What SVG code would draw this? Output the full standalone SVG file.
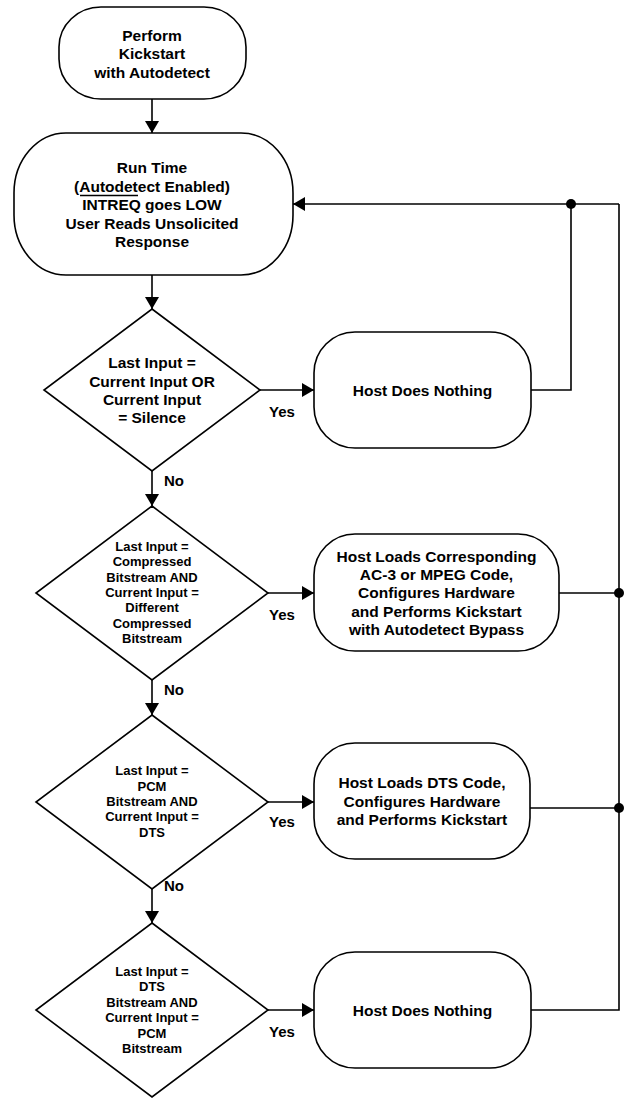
<svg xmlns="http://www.w3.org/2000/svg" width="624" height="1098" viewBox="0 0 624 1098">
<style>
.shape{fill:#fff;stroke:#000;stroke-width:1.6}
.conn{fill:none;stroke:#000;stroke-width:1.6}
.t{font-family:"Liberation Sans",Arial,sans-serif;font-weight:bold;font-size:15.5px;fill:#000;text-anchor:middle}
.s{font-size:13px}
.lbl{font-family:"Liberation Sans",Arial,sans-serif;font-weight:bold;font-size:15px;fill:#000}
</style>
<defs>
<marker id="ah" markerUnits="userSpaceOnUse" viewBox="0 0 12 14" refX="12" refY="7" markerWidth="12" markerHeight="14" orient="auto">
<path d="M0,0 L12,7 L0,14 z" fill="#000"/>
</marker>
</defs>
<rect width="624" height="1098" fill="#fff"/>

<g id="connectors">
<path class="conn" d="M152,99 V133" marker-end="url(#ah)"/>
<path class="conn" d="M152,275 V309" marker-end="url(#ah)"/>
<path class="conn" d="M152,471 V506" marker-end="url(#ah)"/>
<path class="conn" d="M152,680 V715" marker-end="url(#ah)"/>
<path class="conn" d="M152,889 V923" marker-end="url(#ah)"/>
<path class="conn" d="M260,390 H314" marker-end="url(#ah)"/>
<path class="conn" d="M268,593 H314" marker-end="url(#ah)"/>
<path class="conn" d="M268,802 H314" marker-end="url(#ah)"/>
<path class="conn" d="M268,1010 H314" marker-end="url(#ah)"/>
<path class="conn" d="M531,390 H571 V204"/>
<path class="conn" d="M619,204 H293" marker-end="url(#ah)"/>
<path class="conn" d="M559,593 H619"/>
<path class="conn" d="M530,808 H619"/>
<path class="conn" d="M531,1010 H619 V204"/>
<circle cx="571" cy="204" r="5"/>
<circle cx="619" cy="593" r="5"/>
<circle cx="619" cy="808" r="5"/>
<text class="lbl" x="269" y="416.5">Yes</text>
<text class="lbl" x="269" y="619.5">Yes</text>
<text class="lbl" x="269" y="827">Yes</text>
<text class="lbl" x="269" y="1036.5">Yes</text>
<text class="lbl" x="164" y="485.5">No</text>
<text class="lbl" x="164" y="694.5">No</text>
<text class="lbl" x="164" y="891">No</text>
</g>

<g id="start">
<rect class="shape" x="59" y="7" width="187" height="92" rx="42" ry="40"/>
<text class="t" x="152" y="41">Perform</text>
<text class="t" x="152" y="59">Kickstart</text>
<text class="t" x="152" y="77.5">with Autodetect</text>
</g>

<g id="runtime">
<rect class="shape" x="14" y="133" width="279" height="142" rx="52" ry="60"/>
<text class="t" x="152" y="173">Run Time</text>
<text class="t" x="152" y="191.5">(Autodetect Enabled)</text>
<text class="t" x="152" y="210">INTREQ goes LOW</text>
<line x1="80" y1="195.5" x2="138" y2="195.5" stroke="#000" stroke-width="1.4"/>
<text class="t" x="152" y="228.5">User Reads Unsolicited</text>
<text class="t" x="152" y="247">Response</text>
</g>

<g id="decision1">
<polygon class="shape" points="152,309 260,390 152,471 44,390"/>
<text class="t" x="152" y="368">Last Input =</text>
<text class="t" x="152" y="386.5">Current Input OR</text>
<text class="t" x="152" y="404.5">Current Input</text>
<text class="t" x="152" y="423">= Silence</text>
</g>

<g id="action1">
<rect class="shape" x="314" y="332" width="217" height="116" rx="41" ry="41"/>
<text class="t" x="422.5" y="395.5">Host Does Nothing</text>
</g>

<g id="decision2">
<polygon class="shape" points="152,506 268,593 152,680 36,593"/>
<text class="t s" x="152" y="550.8">Last Input =</text>
<text class="t s" x="152" y="566.2">Compressed</text>
<text class="t s" x="152" y="581.6">Bitstream AND</text>
<text class="t s" x="152" y="597">Current Input =</text>
<text class="t s" x="152" y="612.4">Different</text>
<text class="t s" x="152" y="627.8">Compressed</text>
<text class="t s" x="152" y="643.2">Bitstream</text>
</g>

<g id="action2">
<rect class="shape" x="314" y="534" width="245" height="117" rx="41" ry="41"/>
<text class="t" x="436.5" y="561.5">Host Loads Corresponding</text>
<text class="t" x="436.5" y="580">AC-3 or MPEG Code,</text>
<text class="t" x="436.5" y="598">Configures Hardware</text>
<text class="t" x="436.5" y="616.5">and Performs Kickstart</text>
<text class="t" x="436.5" y="635">with Autodetect Bypass</text>
</g>

<g id="decision3">
<polygon class="shape" points="152,715 268,802 152,889 36,802"/>
<text class="t s" x="152" y="775.3">Last Input =</text>
<text class="t s" x="152" y="790.7">PCM</text>
<text class="t s" x="152" y="806">Bitstream AND</text>
<text class="t s" x="152" y="821.4">Current Input =</text>
<text class="t s" x="152" y="837">DTS</text>
</g>

<g id="action3">
<rect class="shape" x="314" y="743" width="216" height="116" rx="41" ry="41"/>
<text class="t" x="422" y="788">Host Loads DTS Code,</text>
<text class="t" x="422" y="806.5">Configures Hardware</text>
<text class="t" x="422" y="825">and Performs Kickstart</text>
</g>

<g id="decision4">
<polygon class="shape" points="152,923 268,1010 152,1097 36,1010"/>
<text class="t s" x="152" y="976.3">Last Input =</text>
<text class="t s" x="152" y="991.3">DTS</text>
<text class="t s" x="152" y="1007">Bitstream AND</text>
<text class="t s" x="152" y="1022">Current Input =</text>
<text class="t s" x="152" y="1038">PCM</text>
<text class="t s" x="152" y="1053.3">Bitstream</text>
</g>

<g id="action4">
<rect class="shape" x="314" y="952" width="217" height="116" rx="41" ry="41"/>
<text class="t" x="422.5" y="1015.5">Host Does Nothing</text>
</g>
</svg>
